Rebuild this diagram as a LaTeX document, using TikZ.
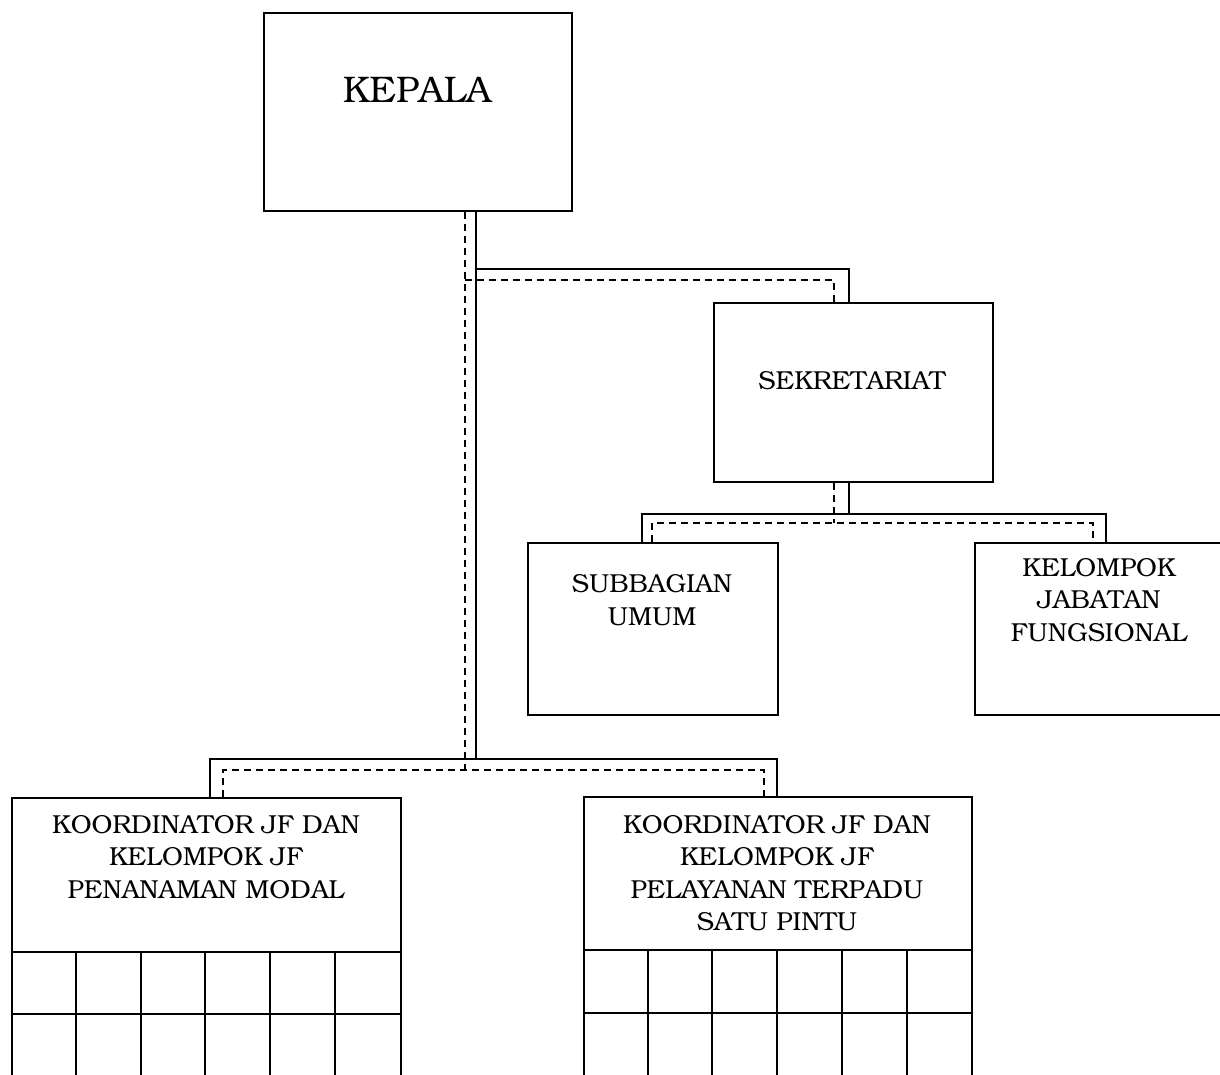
\documentclass[tikz,border=0pt]{standalone}
\usepackage[T1]{fontenc}
\usepackage{bookman}

\begin{document}
\begin{tikzpicture}[x=1pt, y=-1pt, line width=2pt,
  box/.style={draw, rectangle, inner sep=0pt, anchor=north west},
  unittext/.style={align=center, inner sep=0pt, font=\fontsize{26}{32.5}\selectfont},
  dashline/.style={dash pattern=on 7pt off 5pt}]
\useasboundingbox (0, 0) rectangle (1220, 1074);
\node[box, minimum width=308pt, minimum height=198pt] (kepala) at (263, 12) {};
\node[unittext, font=\fontsize{37}{44}\selectfont] (kepalatxt) at (417, 90) {KEPALA};
\node[box, minimum width=279pt, minimum height=179pt] (sek) at (713, 302) {};
\node[unittext] (sektxt) at (852, 381) {SEKRETARIAT};
\node[box, minimum width=250pt, minimum height=172pt] (sub) at (527, 542) {};
\node[unittext] (subtxt) at (652, 600) {SUBBAGIAN\\UMUM};
\node[box, minimum width=250pt, minimum height=172pt] (kel) at (974, 542) {};
\node[unittext] (keltxt) at (1099, 600) {KELOMPOK\\JABATAN\\FUNGSIONAL};
\node[box, minimum width=389pt, minimum height=300pt] (kjfpm) at (11, 797) {};
\node[unittext] (kjfpmtxt) at (206, 857) {KOORDINATOR JF DAN\\KELOMPOK JF\\PENANAMAN MODAL};
\node[box, minimum width=388pt, minimum height=300pt] (kjfptsp) at (583, 796) {};
\node[unittext] (kjfptsptxt) at (777, 873) {KOORDINATOR JF DAN\\KELOMPOK JF\\PELAYANAN TERPADU\\SATU PINTU};
% tabel bawah
\draw (11, 952) -- (400, 952);
\draw (11, 1014) -- (400, 1014);
\draw (583, 950) -- (971, 950);
\draw (583, 1013) -- (971, 1013);
\foreach \i in {1,...,5} {
  \draw (11+\i*64.8, 952) -- (11+\i*64.8, 1097);
  \draw (583+\i*64.7, 950) -- (583+\i*64.7, 1096);
}
% garis komando dan koordinasi
\coordinate (tapS) at (476, 269);
\coordinate (tapD) at (465, 280);
\coordinate (busS) at (476, 759);
\coordinate (busD) at (465, 770);
\coordinate (sekbusS) at (849, 514);
\coordinate (sekbusD) at (834, 523);
\draw (kepala.south -| busS) -- (busS);
\draw[dashline] (kepala.south -| busD) -- (busD);
\draw (tapS) -| (sek.north -| sekbusS);
\draw[dashline] (tapD) -| (sek.north -| sekbusD);
\draw (sek.south -| sekbusS) -- (sekbusS);
\draw[dashline] (sek.south -| sekbusD) -- (sekbusD);
\draw ([xshift=-11pt]sub.north) |- (sekbusS) -| ([xshift=6pt]kel.north);
\draw[dashline] ([xshift=-1pt]sub.north) |- (sekbusD) -| ([xshift=-7pt]kel.north);
\draw ([xshift=3.5pt]kjfpm.north) |- (busS) -| ([xshift=-1pt]kjfptsp.north);
\draw[dashline] ([xshift=16.5pt]kjfpm.north) |- (busD) -| ([xshift=-14pt]kjfptsp.north);
\end{tikzpicture}
\end{document}
